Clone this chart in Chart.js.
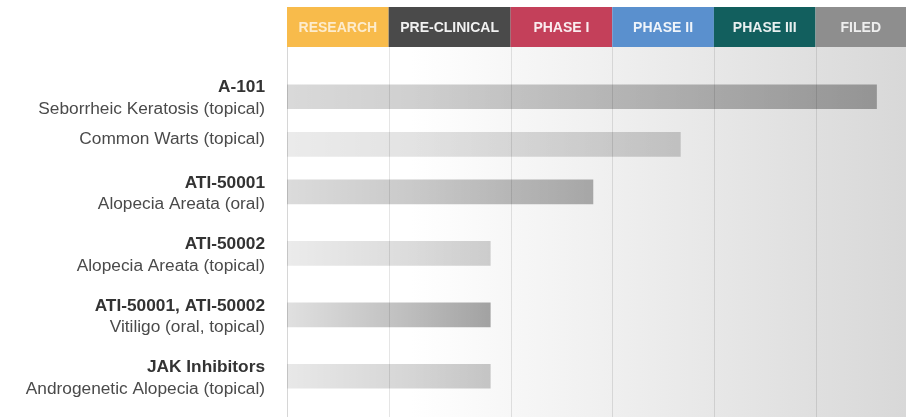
<!DOCTYPE html>
<html>
<head>
<meta charset="utf-8">
<script src="https://cdn.jsdelivr.net/npm/chart.js@4"></script>
<style>
  html, body { margin: 0; padding: 0; background: #ffffff; }
  #wrap { width: 906px; height: 417px; }
</style>
</head>
<body>
<div id="wrap"><canvas id="c" width="906" height="417"></canvas></div>
<script>
// ---- data ----
const programs = ['A-101', '', 'ATI-50001', 'ATI-50002', 'ATI-50001, ATI-50002', 'JAK Inhibitors'];
const indications = [
  'Seborrheic Keratosis (topical)',
  'Common Warts (topical)',
  'Alopecia Areata (oral)',
  'Alopecia Areata (topical)',
  'Vitiligo (oral, topical)',
  'Androgenetic Alopecia (topical)'
];
const progress = [5.80, 3.87, 3.01, 2.0, 2.0, 2.0];
const stages = ['RESEARCH', 'PRE-CLINICAL', 'PHASE I', 'PHASE II', 'PHASE III', 'FILED'];
const stageStart = [0, 1, 2.2, 3.2, 4.2, 5.2];
const stageEndMax = 6.09;

// ---- styles ----
const stageColors = ['#F8BB4B', '#4A4A4A', '#C4405A', '#5A90CE', '#125F5E', '#8E8E8E'];
const stageTextColors = ['rgba(255,255,255,0.72)', 'rgba(255,255,255,0.92)', 'rgba(255,255,255,0.9)',
  'rgba(255,255,255,0.9)', 'rgba(255,255,255,0.9)', 'rgba(255,255,255,0.85)'];
const barAlphaStart = [0.15, 0.08, 0.14, 0.08, 0.12, 0.09];
const barAlphaEnd = [0.32, 0.18, 0.31, 0.18, 0.35, 0.21];

const FONT = '"Liberation Sans", Arial, Helvetica, sans-serif';
const HEADER_TOP = 7, HEADER_BOTTOM = 47;
const ROW_GAP = 0.217; // gap between label blocks, in text-line units

// each row's band height follows the number of text lines in its label
const lineCounts = programs.map(p => (p ? 2 : 1));
const rowCenters = [];
let acc = 0;
lineCounts.forEach(n => {
  const h = n + ROW_GAP;
  rowCenters.push(acc + h / 2);
  acc += h;
});
const rowsTotal = acc;

const backdrop = {
  id: 'backdrop',
  beforeDatasetsDraw(chart) {
    const ctx = chart.ctx;
    const xs = chart.scales.x;
    const left = xs.getPixelForValue(0);
    const right = chart.width;
    const bottom = chart.height;
    ctx.save();
    const g = ctx.createLinearGradient(left, 0, right, 0);
    g.addColorStop(0, '#ffffff');
    g.addColorStop(0.2, '#ffffff');
    g.addColorStop(1, '#d8d8d8');
    ctx.fillStyle = g;
    ctx.fillRect(left, HEADER_BOTTOM, right - left, bottom - HEADER_BOTTOM);
    ctx.lineWidth = 1;
    stageStart.forEach((v, i) => {
      const x = Math.round(xs.getPixelForValue(v)) + 0.5;
      ctx.strokeStyle = i === 0 ? 'rgba(0,0,0,0.16)' : 'rgba(0,0,0,0.10)';
      ctx.beginPath();
      ctx.moveTo(x, HEADER_BOTTOM);
      ctx.lineTo(x, bottom);
      ctx.stroke();
    });
    stages.forEach((s, i) => {
      const x0 = xs.getPixelForValue(stageStart[i]);
      const x1 = i + 1 < stageStart.length ? xs.getPixelForValue(stageStart[i + 1]) : right;
      ctx.fillStyle = stageColors[i];
      ctx.fillRect(x0, HEADER_TOP, x1 - x0, HEADER_BOTTOM - HEADER_TOP);
      ctx.fillStyle = stageTextColors[i];
      ctx.font = 'bold 14px ' + FONT;
      ctx.textAlign = 'center';
      ctx.textBaseline = 'middle';
      ctx.fillText(s, (x0 + x1) / 2, (HEADER_TOP + HEADER_BOTTOM) / 2 + 1);
    });
    ctx.restore();
  },
  afterDraw(chart) {
    const ctx = chart.ctx;
    const ys = chart.scales.y;
    const xText = 265;
    ctx.save();
    ctx.textAlign = 'right';
    ctx.textBaseline = 'middle';
    indications.forEach((ind, i) => {
      const cy = ys.getPixelForValue(rowCenters[i]);
      if (programs[i]) {
        ctx.font = 'bold 17.3px ' + FONT;
        ctx.fillStyle = '#333333';
        ctx.fillText(programs[i], xText, cy - 9);
        ctx.font = '17.3px ' + FONT;
        ctx.fillStyle = '#4a4a4a';
        ctx.fillText(ind, xText, cy + 12.5);
      } else {
        ctx.font = '17.3px ' + FONT;
        ctx.fillStyle = '#4a4a4a';
        ctx.fillText(ind, xText, cy - 5);
      }
    });
    ctx.restore();
  }
};

new Chart(document.getElementById('c'), {
  type: 'bar',
  data: {
    datasets: [{
      data: progress.map((v, i) => ({ x: v, y: rowCenters[i] })),
      barThickness: 24,
      borderWidth: 0,
      backgroundColor: (c) => {
        const chart = c.chart;
        const i = c.dataIndex;
        if (!chart.chartArea || !chart.scales.x) return 'rgba(0,0,0,0.2)';
        const xs = chart.scales.x;
        const x0 = xs.getPixelForValue(0);
        const x1 = xs.getPixelForValue(progress[i]);
        const g = chart.ctx.createLinearGradient(x0, 0, x1, 0);
        g.addColorStop(0, 'rgba(0,0,0,' + barAlphaStart[i] + ')');
        g.addColorStop(1, 'rgba(0,0,0,' + barAlphaEnd[i] + ')');
        return g;
      }
    }]
  },
  options: {
    indexAxis: 'y',
    responsive: false,
    animation: false,
    devicePixelRatio: 1,
    layout: { padding: { left: 287, right: 0, top: 66, bottom: 10 } },
    plugins: { legend: { display: false }, tooltip: { enabled: false } },
    scales: {
      x: { type: 'linear', min: 0, max: stageEndMax, display: false, offset: false },
      y: { type: 'linear', min: 0, max: rowsTotal, reverse: true, display: false,
           offset: false, grid: { offset: false } }
    }
  },
  plugins: [backdrop]
});
</script>
</body>
</html>
